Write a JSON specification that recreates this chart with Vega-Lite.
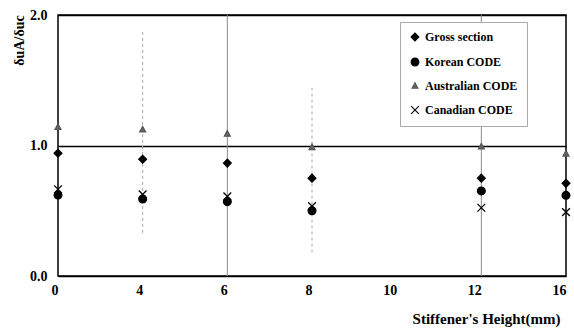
{
  "$schema": "https://vega.github.io/schema/vega-lite/v6.json",
  "width": 508,
  "height": 261,
  "autosize": "none",
  "padding": {"left": 58, "top": 15, "right": 8, "bottom": 56},
  "background": "white",
  "config": {
    "view": {"stroke": "black", "strokeWidth": 1.5},
    "font": "Liberation Serif"
  },
  "datasets": {
    "points": [
      {"h": "0", "series": "Gross section", "value": 0.94},
      {"h": "0", "series": "Korean CODE", "value": 0.62},
      {"h": "0", "series": "Australian CODE", "value": 1.14},
      {"h": "0", "series": "Canadian CODE", "value": 0.665},
      {"h": "4", "series": "Gross section", "value": 0.895},
      {"h": "4", "series": "Korean CODE", "value": 0.59},
      {"h": "4", "series": "Australian CODE", "value": 1.12},
      {"h": "4", "series": "Canadian CODE", "value": 0.626},
      {"h": "6", "series": "Gross section", "value": 0.865},
      {"h": "6", "series": "Korean CODE", "value": 0.57},
      {"h": "6", "series": "Australian CODE", "value": 1.088},
      {"h": "6", "series": "Canadian CODE", "value": 0.61},
      {"h": "8", "series": "Gross section", "value": 0.75},
      {"h": "8", "series": "Korean CODE", "value": 0.50},
      {"h": "8", "series": "Australian CODE", "value": 0.985},
      {"h": "8", "series": "Canadian CODE", "value": 0.536},
      {"h": "12", "series": "Gross section", "value": 0.75},
      {"h": "12", "series": "Korean CODE", "value": 0.652},
      {"h": "12", "series": "Australian CODE", "value": 0.99},
      {"h": "12", "series": "Canadian CODE", "value": 0.523},
      {"h": "16", "series": "Gross section", "value": 0.71},
      {"h": "16", "series": "Korean CODE", "value": 0.618},
      {"h": "16", "series": "Australian CODE", "value": 0.936},
      {"h": "16", "series": "Canadian CODE", "value": 0.49}
    ],
    "fullLines": [
      {"h": "6", "lo": 0, "hi": 2},
      {"h": "12", "lo": 0, "hi": 2}
    ],
    "dottedLines": [
      {"h": "4", "lo": 0.33, "hi": 1.88},
      {"h": "8", "lo": 0.18, "hi": 1.44}
    ]
  },
  "layer": [
    {
      "data": {"name": "fullLines"},
      "mark": {"type": "rule", "color": "#8a8a8a", "strokeWidth": 1},
      "encoding": {
        "x": {"field": "h", "type": "ordinal"},
        "y": {"field": "lo", "type": "quantitative"},
        "y2": {"field": "hi"}
      }
    },
    {
      "data": {"name": "dottedLines"},
      "mark": {"type": "rule", "color": "#aaaaaa", "strokeWidth": 1, "strokeDash": [3, 3]},
      "encoding": {
        "x": {"field": "h", "type": "ordinal"},
        "y": {"field": "lo", "type": "quantitative"},
        "y2": {"field": "hi"}
      }
    },
    {
      "data": {"name": "points"},
      "mark": {"type": "point", "filled": true, "strokeWidth": 1.3, "opacity": 1},
      "encoding": {
        "x": {
          "field": "h",
          "type": "ordinal",
          "scale": {"type": "point", "domain": ["0", "4", "6", "8", "10", "12", "16"], "padding": 0},
          "axis": {
            "title": "Stiffener's Height(mm)",
            "titleFont": "Liberation Serif",
            "titleFontSize": 15,
            "titleFontWeight": "bold",
            "titleColor": "black",
            "titleX": 502,
            "titleAlign": "right",
            "titlePadding": 14,
            "labelFont": "Liberation Serif",
            "labelFontSize": 14,
            "labelFontWeight": "bold",
            "labelColor": "black",
            "labelAngle": 0,
            "labelPadding": 14,
            "ticks": false,
            "domain": false,
            "grid": false
          }
        },
        "y": {
          "field": "value",
          "type": "quantitative",
          "scale": {"domain": [0, 2]},
          "axis": {
            "title": "δuA/δuc",
            "titleFont": "Liberation Serif",
            "titleFontSize": 14,
            "titleFontWeight": "bold",
            "titleColor": "black",
            "titleX": -32,
            "titleY": 25,
            "titleAlign": "center",
            "titleBaseline": "bottom",
            "titleAngle": -90,
            "values": [0, 1, 2],
            "format": ".1f",
            "labelFont": "Liberation Serif",
            "labelFontSize": 14,
            "labelFontWeight": "bold",
            "labelColor": "black",
            "labelPadding": 11,
            "ticks": false,
            "domain": false,
            "grid": true,
            "gridColor": "black",
            "gridWidth": 1.5,
            "gridOpacity": 1
          }
        },
        "shape": {
          "field": "series",
          "type": "nominal",
          "scale": {
            "domain": ["Gross section", "Korean CODE", "Australian CODE", "Canadian CODE"],
            "range": ["diamond", "circle", "M0,-0.85L0.75,0.55L-0.75,0.55Z", "M-1,-1L1,1M-1,1L1,-1"]
          },
          "legend": {
            "title": null,
            "orient": "none",
            "legendX": 342,
            "legendY": 7,
            "padding": 9,
            "strokeColor": "#aaaaaa",
            "fillColor": "white",
            "labelFont": "Liberation Serif",
            "labelFontSize": 12,
            "labelFontWeight": "bold",
            "labelColor": "black",
            "labelOffset": 4,
            "rowPadding": 11,
            "symbolSize": 60,
            "symbolStrokeWidth": 1.1
          }
        },
        "fill": {
          "field": "series",
          "type": "nominal",
          "scale": {
            "domain": ["Gross section", "Korean CODE", "Australian CODE", "Canadian CODE"],
            "range": ["black", "black", "#666666", "transparent"]
          },
          "legend": null
        },
        "stroke": {
          "field": "series",
          "type": "nominal",
          "scale": {
            "domain": ["Gross section", "Korean CODE", "Australian CODE", "Canadian CODE"],
            "range": ["black", "black", "#555555", "black"]
          },
          "legend": null
        },
        "size": {"value": 60}
      }
    }
  ]
}
